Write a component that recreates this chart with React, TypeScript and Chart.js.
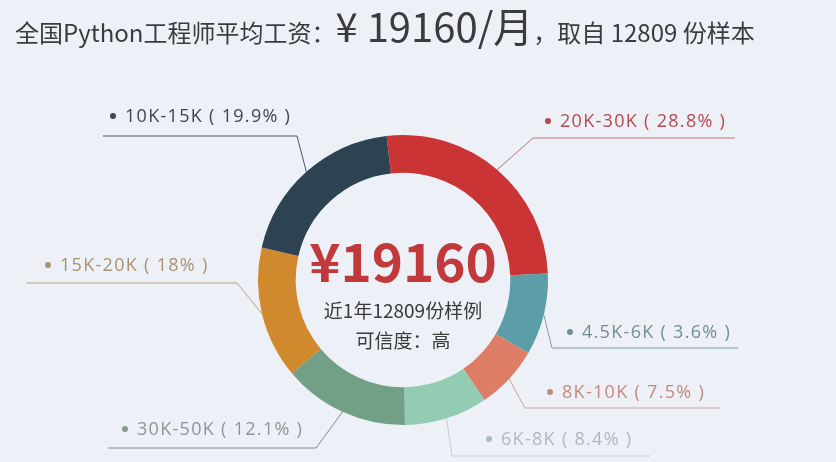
import React, { useEffect, useRef } from "react";
import { Chart, registerables } from "chart.js";

Chart.register(...registerables);

// ---------- data ----------
const categories = ["20K-30K", "4.5K-6K", "8K-10K", "6K-8K", "30K-50K", "15K-20K", "10K-15K"];
const labelPercents = ["28.8%", "3.6%", "7.5%", "8.4%", "12.1%", "18%", "19.9%"];
// arc sizes as drawn in the picture (share of the ring, %)
const arcShares = [26.1, 9.1, 7.1, 9.3, 14.1, 14.7, 19.6];
const averageSalary = "19160";
const sampleCount = "12809";

// ---------- styles ----------
const sliceColors = ["#cb3434", "#5b9ea7", "#de7d66", "#93cbb3", "#72a087", "#d08a2d", "#2d4352"];
const labelColors = ["#b34a4e", "#6f8e96", "#c3897d", "#a9bdb8", "#8a9893", "#aa9270", "#3c4751"];
const lineColors = ["#b87476", "#7f9ea5", "#cda296", "#c3d0cc", "#7f8c88", "#b5a27d", "#4a5560"];
const FONT = "'Noto Sans CJK SC', 'Noto Sans', sans-serif";
const LABEL_FONT = "'Open Sans', 'Noto Sans CJK SC', sans-serif";

// label placement: elbow of the leader line, underline y, end of underline, dot x, text y
const labelLayout = [
  { elbowX: 533, lineY: 138, endX: 735, dotX: 548, textY: 121 },
  { elbowX: 552, lineY: 348, endX: 738, dotX: 570, textY: 332 },
  { elbowX: 525, lineY: 408, endX: 720, dotX: 550, textY: 392 },
  { elbowX: 452, lineY: 456, endX: 650, dotX: 489, textY: 439 },
  { elbowX: 316, lineY: 448, endX: 108, dotX: 125, textY: 429 },
  { elbowX: 237, lineY: 283, endX: 26, dotX: 48, textY: 265 },
  { elbowX: 297, lineY: 136, endX: 103, dotX: 113, textY: 116 },
];

const overlayPlugin = {
  id: "overlay",
  afterDatasetsDraw(chart: any) {
    const ctx = chart.ctx as CanvasRenderingContext2D;
    const meta = chart.getDatasetMeta(0);
    ctx.save();

    // leader lines + labels
    meta.data.forEach((arc: any, i: number) => {
      const p = arc.getProps(["x", "y", "startAngle", "endAngle", "outerRadius"], true);
      const mid = (p.startAngle + p.endAngle) / 2;
      const sx = p.x + Math.cos(mid) * p.outerRadius;
      const sy = p.y + Math.sin(mid) * p.outerRadius;
      const L = labelLayout[i];
      ctx.strokeStyle = lineColors[i];
      ctx.lineWidth = 1;
      ctx.beginPath();
      ctx.moveTo(sx, sy);
      ctx.lineTo(L.elbowX, L.lineY);
      ctx.lineTo(L.endX, L.lineY);
      ctx.stroke();

      ctx.fillStyle = labelColors[i];
      ctx.beginPath();
      ctx.arc(L.dotX, L.textY, 3, 0, Math.PI * 2);
      ctx.fill();
      ctx.font = `18px ${LABEL_FONT}`;
      (ctx as any).letterSpacing = "1.3px";
      ctx.textBaseline = "middle";
      ctx.textAlign = "left";
      ctx.fillText(`${categories[i]} ( ${labelPercents[i]} )`, L.dotX + 12, L.textY + 1);
      (ctx as any).letterSpacing = "0px";
    });

    // center text
    const cx = meta.data[0].x;
    ctx.textAlign = "center";
    ctx.textBaseline = "alphabetic";
    ctx.fillStyle = "#c2393b";
    ctx.font = `bold 53px ${FONT}`;
    ctx.fillText(`¥${averageSalary}`, cx, 282);
    ctx.fillStyle = "#3a3a3a";
    ctx.font = `19px ${FONT}`;
    ctx.fillText(`近1年${sampleCount}份样例`, cx, 318);
    ctx.fillText("可信度：高", cx, 348);

    // title
    ctx.textAlign = "left";
    ctx.fillStyle = "#3b3b3b";
    let x = 15;
    const base = 42;
    const seg = (t: string, f: string) => {
      ctx.font = f;
      ctx.fillText(t, x, base);
      x += ctx.measureText(t).width;
    };
    seg("全国Python工程师平均工资：", `24px ${FONT}`);
    seg(`¥ ${averageSalary}/月`, `40px ${FONT}`);
    seg(`，取自 ${sampleCount} 份样本`, `24px ${FONT}`);

    ctx.restore();
  },
};

export default function App() {
  const ref = useRef<HTMLCanvasElement>(null);
  useEffect(() => {
    document.body.style.margin = "0";
    document.body.style.background = "#edf0f6";
    const chart = new Chart(ref.current as HTMLCanvasElement, {
      type: "doughnut",
      data: {
        labels: categories,
        datasets: [
          {
            data: arcShares,
            backgroundColor: sliceColors,
            borderWidth: 0,
            hoverOffset: 0,
          },
        ],
      },
      options: {
        animation: false,
        responsive: false,
        rotation: -6.5,
        cutout: "74%",
        layout: { padding: { top: 135, bottom: 37, left: 258, right: 288 } },
        plugins: { legend: { display: false }, tooltip: { enabled: false }, title: { display: false } },
        events: [],
      },
      plugins: [overlayPlugin],
    });
    return () => chart.destroy();
  }, []);
  return (
    <div style={{ width: 836, height: 462, background: "#edf0f6" }}>
      <canvas ref={ref} width={836} height={462} style={{ display: "block" }} />
    </div>
  );
}
